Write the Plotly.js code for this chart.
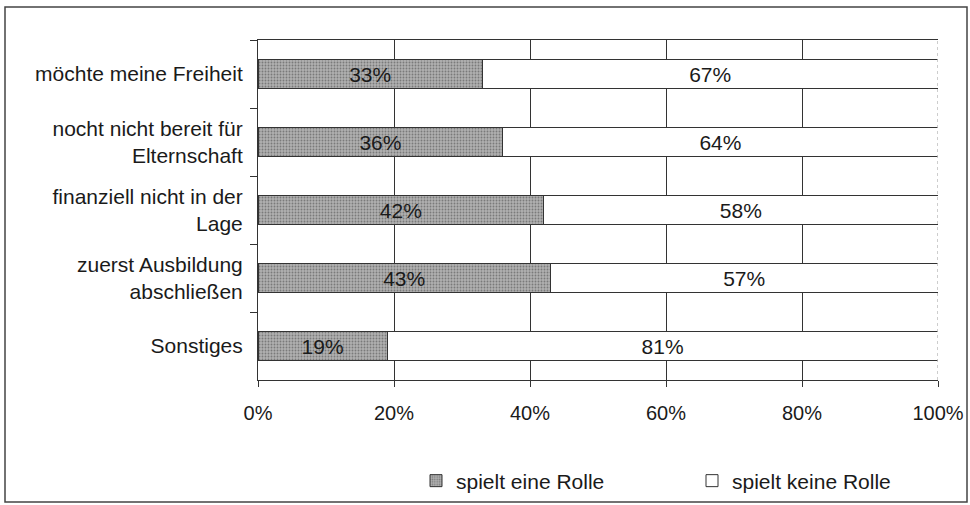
<!DOCTYPE html>
<html>
<head>
<meta charset="utf-8">
<script src="https://cdn.plot.ly/plotly-3.0.1.min.js"></script>
<style>
  html, body { margin: 0; padding: 0; background: #fff; }
  #chart { width: 970px; height: 505px; }
</style>
</head>
<body>
<div id="chart"></div>
<script>
// Data
var categories = [
  "möchte meine Freiheit",
  "nocht nicht bereit für<br>Elternschaft",
  "finanziell nicht in der<br>Lage",
  "zuerst Ausbildung<br>abschließen",
  "Sonstiges"
];
var spieltEineRolle = [33, 36, 42, 43, 19];
var spieltKeineRolle = [67, 64, 58, 57, 81];
var seriesNames = ["spielt eine Rolle", "spielt keine Rolle"];
var xTickValues = [0, 20, 40, 60, 80, 100];

var FONT = "Liberation Sans, Arial, Helvetica, sans-serif";

var traces = [
  {
    type: "bar",
    orientation: "h",
    name: seriesNames[0],
    y: categories,
    x: spieltEineRolle,
    text: spieltEineRolle.map(function (v) { return v + "%"; }),
    textposition: "inside",
    insidetextanchor: "middle",
    textfont: { family: FONT, size: 21, color: "#1a1a1a" },
    hoverinfo: "skip",
    marker: {
      color: "#a6a6a6",
      line: { color: "#333333", width: 1 },
      pattern: { shape: ".", fgcolor: "#7a7a7a", bgcolor: "#b0b0b0", size: 3, solidity: 0.3 }
    }
  },
  {
    type: "bar",
    orientation: "h",
    name: seriesNames[1],
    y: categories,
    x: spieltKeineRolle,
    text: spieltKeineRolle.map(function (v) { return v + "%"; }),
    textposition: "inside",
    insidetextanchor: "middle",
    textfont: { family: FONT, size: 21, color: "#1a1a1a" },
    hoverinfo: "skip",
    marker: {
      color: "#ffffff",
      line: { color: "#333333", width: 1 }
    }
  }
];

var L = 258, R = 938, T = 40, B = 380;
function px2paperX(px) { return (px - L) / (R - L); }
function px2paperY(py) { return (B - py) / (B - T); }

var layout = {
  width: 970,
  height: 505,
  margin: { l: L, r: 970 - R, t: T, b: 505 - B, pad: 0, autoexpand: false },
  paper_bgcolor: "#ffffff",
  plot_bgcolor: "#ffffff",
  font: { family: FONT, size: 20, color: "#1a1a1a" },
  barmode: "stack",
  bargap: 0.585,
  uniformtext: { mode: "show", minsize: 21 },
  showlegend: true,
  legend: {
    orientation: "h",
    x: px2paperX(416),
    xanchor: "left",
    y: px2paperY(481),
    yanchor: "middle",
    font: { family: FONT, size: 21, color: "#1a1a1a" },
    entrywidth: 231,
    entrywidthmode: "pixels",
    bgcolor: "rgba(0,0,0,0)",
    traceorder: "normal"
  },
  xaxis: {
    range: [0, 100],
    tickvals: xTickValues,
    ticktext: xTickValues.map(function (v) { return v + "%"; }),
    showgrid: true,
    gridcolor: "#333333",
    gridwidth: 1,
    showline: true,
    linecolor: "#333333",
    linewidth: 1,
    mirror: true,
    ticks: "outside",
    ticklen: 6,
    tickcolor: "#333333",
    ticklabelstandoff: 9,
    zeroline: false,
    tickfont: { family: FONT, size: 20, color: "#1a1a1a" },
    fixedrange: true
  },
  yaxis: {
    type: "category",
    autorange: "reversed",
    showgrid: false,
    showline: true,
    linecolor: "#333333",
    linewidth: 1,
    ticks: "outside",
    tickson: "boundaries",
    ticklen: 7,
    tickcolor: "#333333",
    ticklabelstandoff: 10,
    zeroline: false,
    tickfont: { family: FONT, size: 21, color: "#1a1a1a" },
    fixedrange: true
  },
  shapes: [
    {
      type: "line", xref: "x", yref: "paper",
      x0: 100, x1: 100, y0: 0, y1: 1,
      line: { color: "#bdbdbd", width: 1.5, dash: "dot" },
      layer: "above"
    },
    {
      type: "rect", xref: "paper", yref: "paper",
      x0: px2paperX(5), x1: px2paperX(967),
      y0: px2paperY(502), y1: px2paperY(7),
      line: { color: "#444444", width: 1.5 },
      fillcolor: "rgba(0,0,0,0)",
      layer: "below"
    }
  ]
};

Plotly.newPlot("chart", traces, layout, { staticPlot: true, displayModeBar: false });
</script>
</body>
</html>
